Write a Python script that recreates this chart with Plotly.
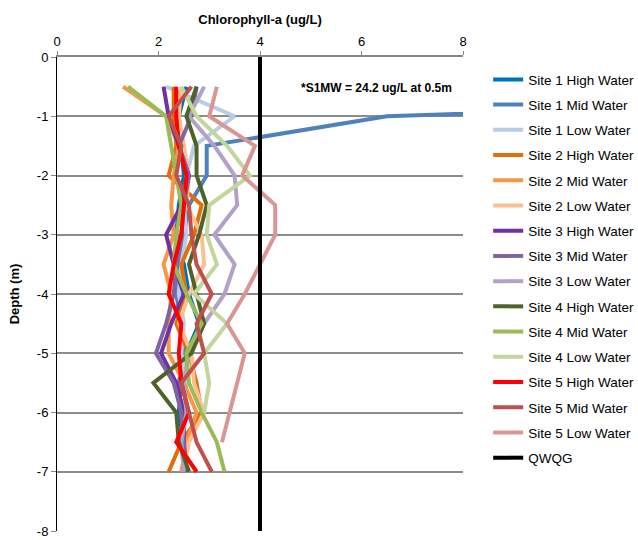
import plotly.graph_objects as go

depths = [-0.5, -1, -1.5, -2, -2.5, -3, -3.5, -4, -4.5, -5, -5.5, -6, -6.5, -7]

names = ["Site 1 High Water", "Site 1 Mid Water", "Site 1 Low Water",
         "Site 2 High Water", "Site 2 Mid Water", "Site 2 Low Water",
         "Site 3 High Water", "Site 3 Mid Water", "Site 3 Low Water",
         "Site 4 High Water", "Site 4 Mid Water", "Site 4 Low Water",
         "Site 5 High Water", "Site 5 Mid Water", "Site 5 Low Water"]

colors = ["#0070C0", "#4F81BD", "#B9CDE5",
          "#E46C0A", "#F79646", "#FAC090",
          "#7030A0", "#8064A2", "#B3A2C7",
          "#4F6228", "#9BBB59", "#C3D69B",
          "#FF0000", "#C0504D", "#D99694"]

s1hw = [2.55, 2.4, 2.45, 2.5, 2.4, 2.35, 2.5, 2.6, 2.8, 2.55, 2.45, 2.4, 2.5, 2.55]
s1mw = [24.2, 6.5, 2.95, 2.95, 2.6, 2.5, 2.4, 2.35, 2.45, 2.5, 2.4, 2.45, 2.5, 2.55]
s1lw = [2.15, 3.5, 2.7, 2.55, 2.5, 2.55, 2.45, 2.4, 2.5, 2.45, 2.55, 2.5, 2.45, 2.5]
s2hw = [2.3, 2.3, 2.35, 2.2, 2.85, 2.7, 2.45, 2.55, 2.35, 2.6, 2.75, 2.85, 2.45, 2.2]
s2mw = [1.3, 2.15, 2.4, 2.3, 2.25, 2.3, 2.1, 2.25, 2.2, 2.2, 2.5, 2.75, 2.55, 2.45]
s2lw = [2.45, 2.4, 2.5, 2.6, 2.55, 2.85, 2.9, 2.6, 2.4, 2.65, 2.7, 2.9, 2.6, 2.5]
s3hw = [2.1, 2.2, 2.4, 2.6, 2.45, 2.15, 2.3, 2.5, 2.25, 2.05, 2.35, 2.5, 2.5, 2.55]
s3mw = [2.75, 2.65, 2.4, 2.6, 2.5, 2.45, 2.35, 2.3, 2.15, 1.95, 2.3, 2.45, 2.5, 2.5]
s3lw = [2.9, 2.6, 3.1, 3.5, 3.55, 3.1, 3.5, 3.3, 2.9, 2.6, 2.5, 2.55, 2.45, 2.5]
s4hw = [2.75, 2.55, 2.75, 2.75, 2.95, 2.8, 2.6, 2.75, 2.9, 2.65, 1.9, 2.35, 2.4, 2.6]
s4mw = [1.4, 2.15, 2.25, 2.35, 2.45, 2.35, 2.3, 2.55, 2.85, 2.55, 2.6, 2.85, 3.15, 3.3]
s4lw = [2.45, 2.75, 3.35, 3.8, 3.0, 2.95, 3.15, 2.7, 3.35, 2.9, 3.0, 2.9, None, None]
s5hw = [2.35, 2.35, 2.4, 2.55, 2.5, 2.45, 2.3, 2.2, 2.45, 2.4, 2.45, 2.6, 2.35, 2.75]
s5mw = [2.65, 2.2, 2.45, 2.35, 2.6, 2.65, 2.75, 3.05, 2.75, 2.9, 2.45, 2.6, 2.75, 3.05]
s5lw = [3.15, 3.0, 3.9, 3.65, 4.3, 4.3, 4.0, 3.7, 3.35, 3.7, 3.55, 3.4, 3.25, None]

series = [s1hw, s1mw, s1lw, s2hw, s2mw, s2lw, s3hw, s3mw, s3lw,
          s4hw, s4mw, s4lw, s5hw, s5mw, s5lw]

qwqg_x = [4, 4]
qwqg_y = [0, -8]

ytick_vals = [0, -1, -2, -3, -4, -5, -6, -7, -8]
ytick_text = ["0", "-1", "-2", "-3", "-4", "-5", "-6", "-7", "-8"]
xtick_vals = [0, 2, 4, 6, 8]

fig = go.Figure()
for i, (nm, col, vals) in enumerate(zip(names, colors, series)):
    fig.add_trace(go.Scatter(x=vals, y=depths, mode="lines", name=nm,
                             line=dict(color=col, width=4),
                             legendgroup=f"g{i}", connectgaps=False))
fig.add_trace(go.Scatter(x=qwqg_x, y=qwqg_y, mode="lines", name="QWQG",
                         line=dict(color="#000000", width=4), legendgroup="gq"))

fig.update_layout(
    width=638, height=540,
    margin=dict(l=57, r=175, t=57, b=9, autoexpand=False),
    paper_bgcolor="white", plot_bgcolor="white",
    font=dict(family="Liberation Sans, Arial", size=12, color="#000000"),
    showlegend=True,
    legend=dict(x=1.062, y=0.985, xanchor="left", yanchor="top",
                font=dict(size=13.5), tracegroupgap=4.67, traceorder="grouped",
                itemwidth=30, bgcolor="rgba(0,0,0,0)"),
    xaxis=dict(side="top", range=[0, 8], tickvals=xtick_vals, automargin=False,
               showgrid=False, zeroline=False, showline=True,
               linecolor="#888888", linewidth=2,
               ticks="outside", ticklen=4, tickcolor="#888888",
               tickfont=dict(size=13),
               title=dict(text="<b>Chlorophyll-a (ug/L)</b>", font=dict(size=13), standoff=6)),
    yaxis=dict(range=[-8, 0], tickvals=ytick_vals, ticktext=ytick_text, automargin=False,
               showgrid=True, gridcolor="#8C8C8C", gridwidth=2,
               zeroline=False, showline=True, linecolor="#000000", linewidth=1,
               ticks="outside", ticklen=5, tickcolor="#888888",
               tickfont=dict(size=13),
               title=dict(text="<b>Depth (m)</b>", font=dict(size=13), standoff=14)),
    annotations=[dict(x=6.3, y=-0.52, xref="x", yref="y",
                      text="<b>*S1MW = 24.2 ug/L at 0.5m</b>", showarrow=False,
                      font=dict(size=12), xanchor="center", yanchor="middle")],
)

fig.write_html("out.html")
